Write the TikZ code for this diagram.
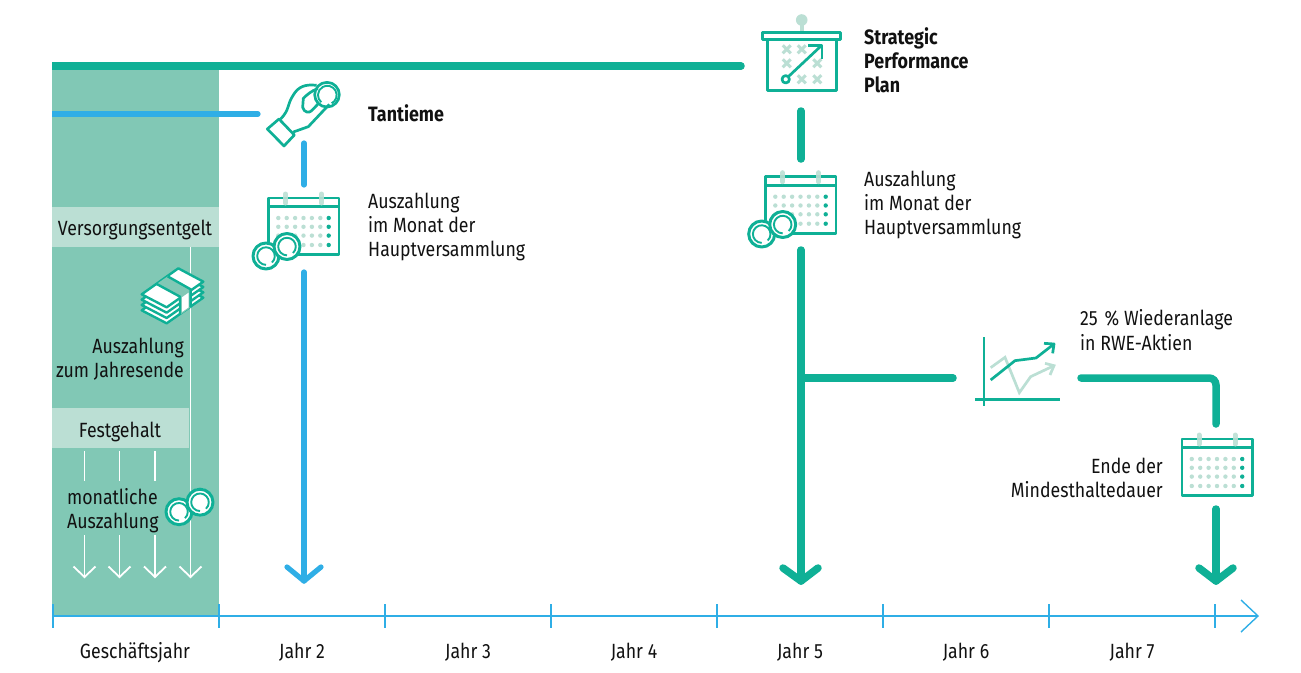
\documentclass[tikz,border=0pt]{standalone}
\usepackage{fontspec}
\setmainfont[FakeStretch=0.86]{Fira Sans}
\definecolor{rweg}{HTML}{0FB096}
\definecolor{rweb}{HTML}{2FAEE6}
\definecolor{bgg}{HTML}{81C8B5}
\definecolor{palg}{HTML}{BBDFD4}
\definecolor{ink}{HTML}{111111}
\tikzset{
  txt/.style={text=ink,font=\fontsize{20.6}{24.2}\selectfont,inner sep=0pt,align=left},
  txtb/.style={txt,font=\fontsize{20.8}{24.2}\selectfont\bfseries},
  band/.style={fill=palg,draw=none},
  gbar/.style={draw=rweg,line width=7.5pt,line cap=round},
  bbar/.style={draw=rweb,line width=5.2pt,line cap=round},
  wline/.style={draw=white,line width=1.6pt},
  icon/.style={draw=rweg,line width=2.7pt,line join=round},
  paleicon/.style={draw=palg,line width=2.7pt},
  axisl/.style={draw=rweb,line width=1.4pt},
}
\newcommand{\coinpair}[2]{%
 \begin{scope}[shift={(#1,#2)}]
  \foreach \cx/\cy in {0/0,21/-9.5}{
   \fill[white] (\cx,\cy) circle (14);
   \draw[icon,line width=3pt] (\cx,\cy) circle (13);
   \draw[icon,line width=1.9pt] (\cx+6,\cy+6.5) arc (47:-270:8.8);
  }
 \end{scope}}
\newcommand{\calicon}[2]{%
 \begin{scope}[shift={(#1,#2)}]
  \fill[white] (0,0) rectangle (70.5,56.5);
  \draw[icon] (0,0) rectangle (70.5,56.5);
  \draw[icon] (0,8.5) -- (70.5,8.5);
  \foreach \rx in {17,53}
   \draw[draw=palg,opacity=.9,line width=5pt,line cap=round] (\rx,-4) -- (\rx,5);
  \foreach \dy in {20,28.8,37.6,47}{
   \foreach \dx in {9.8,18.2,26.6,35,43.4,51.8}
    \fill[palg] (\dx,\dy) circle (2.2);
   \fill[rweg] (60.2,\dy) circle (2.2);
  }
 \end{scope}}
\newcommand{\smallx}[2]{%
 \draw[draw=palg,line width=3pt] (#1-4,#2-4) -- (#1+4,#2+4) (#1-4,#2+4) -- (#1+4,#2-4);}
\begin{document}
\begin{tikzpicture}[x=1pt,y=-1pt]
\useasboundingbox (0,0) rectangle (1301,672);
% background
\fill[bgg] (52,68) rectangle (219,616);
\fill[band] (52,207) rectangle (219,247);
\fill[band] (52,408) rectangle (189,448);
% named points for connectors
\coordinate (g0) at (46,66);  \coordinate (g1) at (741,66);
\coordinate (b0) at (46,114); \coordinate (b1) at (258,114);
\coordinate (b2) at (304,143); \coordinate (b3) at (304,185);
\coordinate (b4) at (304,272); \coordinate (b5) at (304,581);
\coordinate (s0) at (801,111); \coordinate (s1) at (801,159);
\coordinate (s2) at (801,250); \coordinate (s3) at (801,581);
\coordinate (s4) at (801,378); \coordinate (s5) at (953,378);
\coordinate (s6) at (1081,378); \coordinate (s7) at (1216,378);
\coordinate (s8) at (1216,424);
\coordinate (s9) at (1216,509); \coordinate (s10) at (1216,581);
% white lines
\foreach \x in {84.5,119.5,155}{
 \draw[wline] (\x,451) -- (\x,481);
 \draw[wline] (\x,535) -- (\x,576);
 \draw[wline,line width=1.8pt] (\x-11,566.5) -- (\x,577) -- (\x+11,566.5);
}
\draw[wline] (190.5,247) -- (190.5,576);
\draw[wline,line width=1.8pt] (179.5,566.5) -- (190.5,577) -- (201.5,566.5);
% main bars
\begin{scope}
 \clip (52,0) rectangle (1301,672);
 \draw[gbar] (g0) -- (g1);
 \draw[bbar] (b0) -- (b1);
\end{scope}
\draw[bbar] (b2) -- (b3);
\draw[bbar] (b4) -- (b5);
\draw[bbar,line join=round] (287,567) -- (b5) -- (321,567);
\draw[gbar] (s0) -- (s1);
\draw[gbar] (s2) -- (s3);
\draw[gbar,line join=round] (783,568) -- (s3) -- (818,568);
\draw[gbar] (s4) -- (s5);
\draw[gbar,rounded corners=7pt] (s6) -- (s7) -- (s8);
\draw[gbar] (s9) -- (s10);
\draw[gbar,line join=round] (1199,568) -- (s10) -- (1233,568);
% axis
\coordinate (a0) at (52,616); \coordinate (a1) at (1258,616);
\draw[axisl] (a0) -- (a1);
\draw[axisl] (1241,600) -- (a1) -- (1241,632);
\foreach \x in {53,219,385,551,717,883,1049,1215}
 \draw[axisl] (\x,604) -- (\x,628);
% axis labels
\node[txt,anchor=base] (l1) at (135,658) {Geschäftsjahr};
\node[txt,anchor=base] (l2) at (302,658) {Jahr 2};
\node[txt,anchor=base] (l3) at (468,658) {Jahr 3};
\node[txt,anchor=base] (l4) at (634,658) {Jahr 4};
\node[txt,anchor=base] (l5) at (800,658) {Jahr 5};
\node[txt,anchor=base] (l6) at (966,658) {Jahr 6};
\node[txt,anchor=base] (l7) at (1132,658) {Jahr 7};
% texts
\node[txt,anchor=center] (t1) at (135,229.5) {Versorgungsentgelt};
\node[txt,anchor=center] (t2) at (120,431.5) {Festgehalt};
\node[txt,anchor=east,align=right] (t3) at (184,359) {Auszahlung\\zum Jahresende};
\node[txt,anchor=west] (t4) at (67,510.5) {monatliche\\Auszahlung};
\node[txtb,anchor=west] (t5) at (368,113) {Tantieme};
\node[txt,anchor=west] (t6) at (368,227) {Auszahlung\\im Monat der\\Hauptversammlung};
\node[txtb,anchor=west] (t7) at (864,60.5) {Strategic\\Performance\\Plan};
\node[txt,anchor=west] (t8) at (864,205) {Auszahlung\\im Monat der\\Hauptversammlung};
\node[txt,anchor=west] (t9) at (1080,330) {25\,\,\% Wiederanlage\\in RWE-Aktien};
\node[txt,anchor=east,align=right] (t10) at (1163,478) {Ende der\\Mindesthaltedauer};
% board icon
\draw[draw=palg,line width=4pt] (801.7,20) -- (801.7,32);
\fill[palg] (801.7,20) circle (5.8);
\draw[icon,fill=white] (767.3,39) rectangle (836.7,90.7);
\draw[icon,fill=white] (762.7,32.3) rectangle (840.7,39.3);
\smallx{786.7}{49.3}\smallx{801.7}{49.3}
\smallx{786.7}{63.3}\smallx{817.3}{63.3}
\smallx{801.7}{79.3}\smallx{817.3}{79.3}
\draw[icon] (785.7,79.3) circle (3.7);
\draw[icon] (788.5,76.5) -- (821,46);
\draw[icon] (808,45.5) -- (822,45.5) -- (822,59);
% hand icon
\begin{scope}[shift={(240,70)},x=0.3333pt,y=-0.3333pt]
 \draw[icon] (82,177) -- (117,147) -- (163,195) -- (132,228) -- cycle;
 \draw[icon] (122,147) .. controls (150,118) and (140,105) .. (160,75) .. controls (175,50) and (195,42) .. (230,46);
 \draw[icon] (160,186) -- (205,170) -- (268,103);
 \draw[icon] (233,56) .. controls (215,62) and (200,75) .. (190,85) -- (188,112) .. controls (192,128) and (208,130) .. (215,122) -- (238,98);
 \draw[icon] (261,74) circle (37);
 \draw[icon,line width=1.9pt] (275,100) arc (62:-230:28);
\end{scope}
\calicon{268.5}{198}
\coinpair{266}{256}
\calicon{765.5}{176.7}
\coinpair{761.7}{234}
\calicon{1182}{439}
% money icon
\begin{scope}[shift={(40,200)},x=0.3333pt,y=-0.3333pt]
 \foreach \d in {48,32,16}
  \draw[icon,fill=white,line width=2.4pt] (305,283+\d) -- (415,205+\d) -- (490,245+\d) -- (380,322+\d) -- cycle;
 \draw[icon,fill=white,line width=2.4pt] (305,283) -- (415,205) -- (490,245) -- (380,322) -- cycle;
 \fill[bgg] (350,252) -- (383,229) -- (452,268) -- (452,322) -- (420,345) -- (420,290) -- cycle;
 \fill[white] (426,292) -- (446,278) -- (446,322) -- (426,336) -- cycle;
 \draw[icon,line width=2.4pt] (350,252) -- (420,290) -- (420,345);
 \draw[icon,line width=2.4pt] (383,229) -- (452,268) -- (452,322);
\end{scope}
\coinpair{179}{511.7}
% chart icon
\begin{scope}[shift={(960,320)},x=0.3333pt,y=-0.3333pt]
 \draw[paleicon] (92,143) -- (135,112) -- (178,218) -- (212,170) -- (282,137);
 \draw[paleicon] (255,130) -- (282,137) -- (270,165);
 \draw[icon] (72,52) -- (72,258);
 \draw[icon] (45,238) -- (300,238);
 \draw[icon] (92,180) -- (165,122) -- (228,114) -- (282,72);
 \draw[icon] (252,70) -- (282,72) -- (278,100);
\end{scope}
\end{tikzpicture}
\end{document}
